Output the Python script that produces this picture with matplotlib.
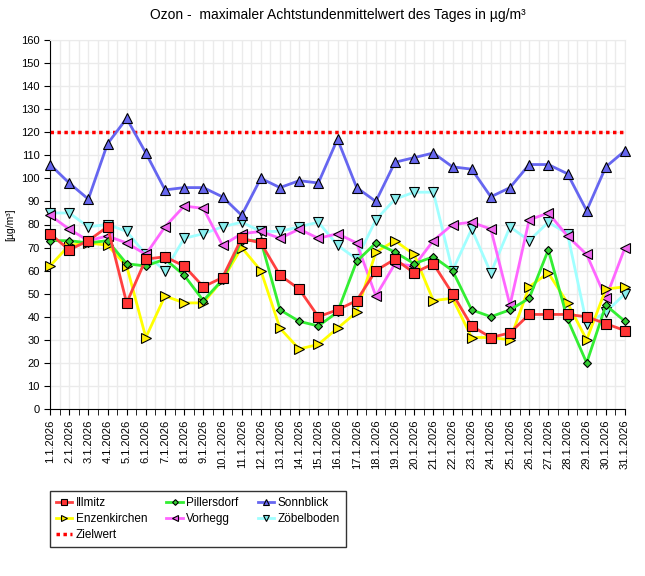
import numpy as np
import matplotlib
matplotlib.use("Agg")
import matplotlib.pyplot as plt
from matplotlib.ticker import MultipleLocator

plt.rcParams['font.family'] = ['Liberation Sans', 'DejaVu Sans']

# data (max 8h mean ozone per day, µg/m³)
days = np.arange(1, 32)
day_labels = [f"{d}.1.2026" for d in days]

illmitz = [76, 69, 73, 79, 46, 65, 66, 62, 53, 57, 74, 72, 58, 52, 40, 43,
           47, 60, 65, 59, 63, 50, 36, 31, 33, 41, 41, 41, 40, 37, 34]
enzenkirchen = [62, 71, 72, 71, 62, 31, 49, 46, 46, 56, 70, 60, 35, 26, 28, 35,
                42, 68, 73, 67, 47, 48, 31, 31, 30, 53, 59, 46, 30, 52, 53]
pillersdorf = [73, 73, 72, 73, 63, 62, 65, 58, 47, 56, 73, 73, 43, 38, 36, 42,
               64, 72, 68, 63, 66, 60, 43, 40, 43, 48, 69, 39, 20, 45, 38]
vorhegg = [84, 78, 73, 75, 72, 67, 79, 88, 87, 71, 76, 77, 74, 78, 74, 76,
           72, 49, 63, 62, 73, 80, 81, 78, 45, 82, 85, 75, 67, 48, 70]
sonnblick = [106, 98, 91, 115, 126, 111, 95, 96, 96, 92, 84, 100, 96, 99, 98, 117,
             96, 90, 107, 109, 111, 105, 104, 92, 96, 106, 106, 102, 86, 105, 112]
zoebelboden = [85, 85, 79, 80, 77, 67, 60, 74, 76, 79, 81, 77, 77, 79, 81, 71,
               65, 82, 91, 94, 94, 60, 78, 59, 79, 73, 81, 76, 37, 42, 50]
zielwert = [120] * 31

fig = plt.figure(figsize=(6.45, 5.76), dpi=100)
ax = fig.add_axes([50/645, 1 - 409/576, 575/645, 369/576])

grid_c = '#ebebeb'
ax.set_xlim(1, 31)
ax.set_ylim(0, 160)
ax.set_xticks(days)
ax.set_xticklabels(day_labels, rotation=90, fontsize=8)
ax.xaxis.set_minor_locator(MultipleLocator(0.5))
ax.yaxis.set_major_locator(MultipleLocator(10))
ax.tick_params(axis='y', labelsize=8, length=4, direction='out')
ax.tick_params(axis='x', which='both', length=4, direction='out')
ax.grid(which='both', axis='x', color=grid_c, lw=1)
ax.grid(which='major', axis='y', color=grid_c, lw=1)
ax.set_axisbelow(True)
for s in ['top', 'right']:
    ax.spines[s].set_color(grid_c)
ax.set_ylabel('[µg/m³]', fontsize=7.5, labelpad=4)

# series: name, values, line colour, marker, marker face, marker size
series = [
    ('Zöbelboden', zoebelboden, '#a0ffff', 'v', '#88eeee', 6.5),
    ('Vorhegg', vorhegg, '#ff66ff', '<', '#ee66ee', 6.5),
    ('Sonnblick', sonnblick, '#6666f0', '^', '#6666ee', 6.5),
    ('Enzenkirchen', enzenkirchen, '#ffff00', '>', '#ffee00', 6.5),
    ('Pillersdorf', pillersdorf, '#33ee33', 'D', '#33cc33', 4.5),
    ('Illmitz', illmitz, '#ff4040', 's', '#ff3333', 7),
]
handles = {}
for name, vals, col, mk, mfc, ms in series:
    h, = ax.plot(days, vals, color=col, lw=2, marker=mk, markersize=ms,
                 markerfacecolor=mfc, markeredgecolor='black', markeredgewidth=0.8,
                 label=name, clip_on=False, zorder=3)
    handles[name] = h
h, = ax.plot(days, zielwert, color='#ff0000', lw=2.5, ls=(0, (1, 1)), label='Zielwert', zorder=2)
handles['Zielwert'] = h

ax.set_title('Ozon -  maximaler Achtstundenmittelwert des Tages in µg/m³', fontsize=10, pad=15)

order = ['Illmitz', 'Enzenkirchen', 'Zielwert', 'Pillersdorf', 'Vorhegg', 'Sonnblick', 'Zöbelboden']
leg = fig.legend([handles[n] for n in order], order, ncol=3, loc='upper left',
                 bbox_to_anchor=(50/645, 1 - 491/576), borderaxespad=0, fontsize=8.5,
                 fancybox=False, edgecolor='black', handlelength=1.4, markerscale=0.65,
                 columnspacing=1.6, labelspacing=0.35, borderpad=0.5, handletextpad=0.3)
leg.get_frame().set_linewidth(1)

plt.savefig('out.png', dpi=100)
